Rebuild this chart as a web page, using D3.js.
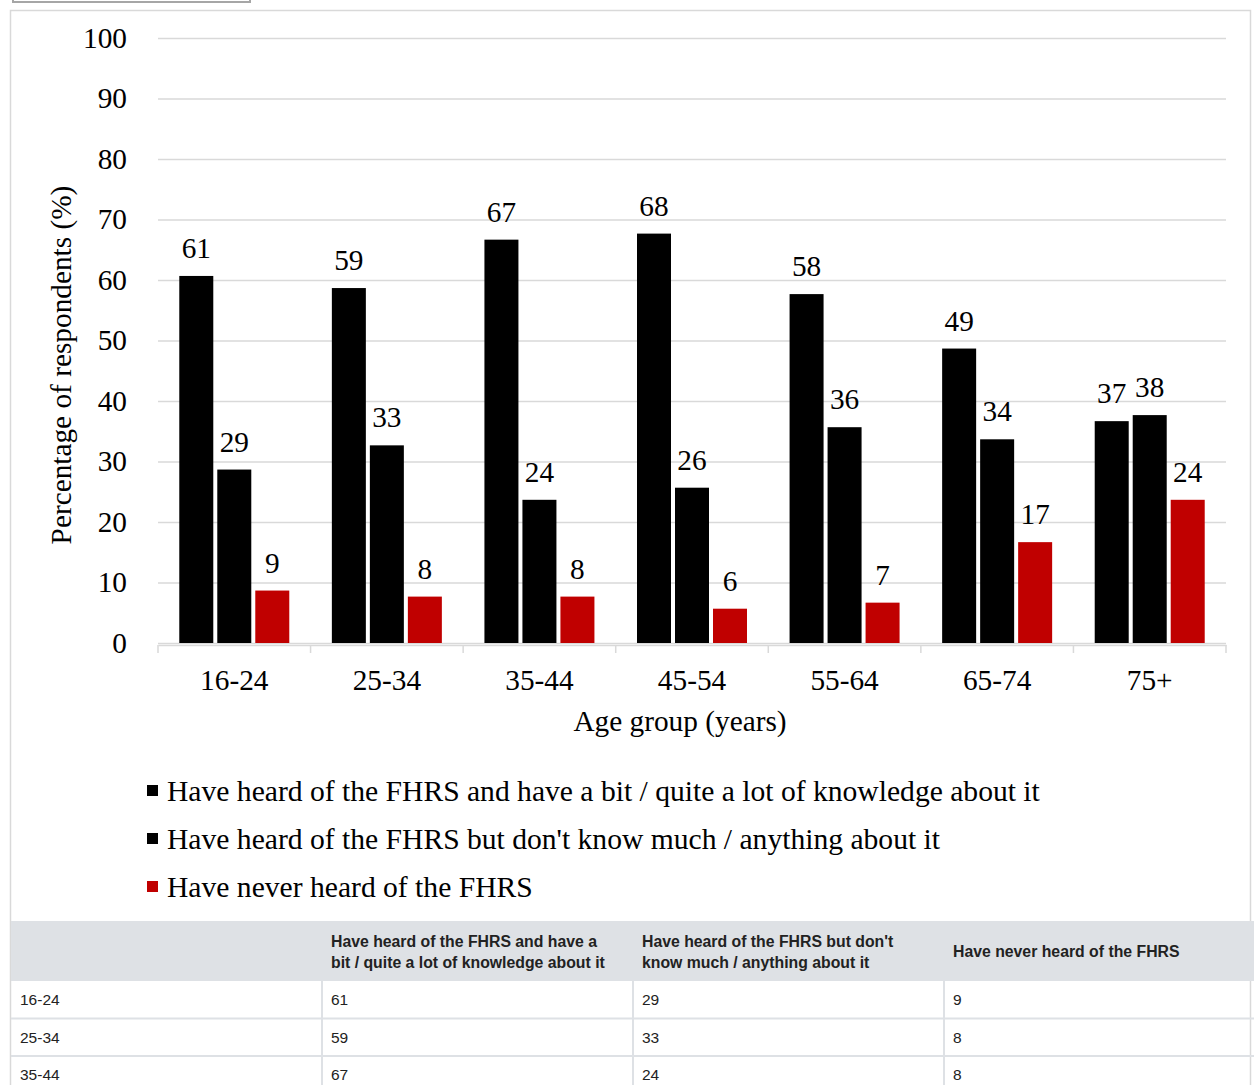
<!DOCTYPE html>
<html><head><meta charset="utf-8">
<script src="https://cdn.jsdelivr.net/npm/d3@7"></script>
<style>
body{margin:0;background:#fff;}
svg{display:block;}
</style></head>
<body>
<svg id="c" width="1254" height="1085"></svg>
<script>
const categories = ["16-24","25-34","35-44","45-54","55-64","65-74","75+"];
const seriesNames = [
  "Have heard of the FHRS and have a bit / quite a lot of knowledge about it",
  "Have heard of the FHRS but don't know much / anything about it",
  "Have never heard of the FHRS"
];
const tableHeaders = [
  ["Have heard of the FHRS and have a","bit / quite a lot of knowledge about it"],
  ["Have heard of the FHRS but don't","know much / anything about it"],
  ["Have never heard of the FHRS"]
];
const knowledgeable = [61,59,67,68,58,49,37];
const notMuch = [29,33,24,26,36,34,38];
const neverHeard = [9,8,8,6,7,17,24];
const yTicks = [0,10,20,30,40,50,60,70,80,90,100];
const colors = ["#000000","#000000","#c00000"];
const allSeries = [knowledgeable, notMuch, neverHeard];

const svg = d3.select("#c");
const serif = "'Liberation Serif','Times New Roman',serif";
const sans = "'Liberation Sans',Arial,sans-serif";
const fs = 29.3;

// top grey tab edge
svg.append("rect").attr("x",13).attr("y",-2).attr("width",237).attr("height",4)
  .attr("fill","#fff").attr("stroke","#a6a6a6").attr("stroke-width",2);

// chart frame
svg.append("rect").attr("x",10.5).attr("y",10.5).attr("width",1240).attr("height",1090)
  .attr("fill","none").attr("stroke","#d9d9d9").attr("stroke-width",1.5);

const x0 = d3.scaleBand().domain(categories).range([158,1226]).paddingInner(0).paddingOuter(0);
const y = d3.scaleLinear().domain([0,100]).range([643,38]);
const barW = 34, gap = 4;

// gridlines
const yAxis = d3.axisLeft(y).tickValues(yTicks).tickSize(-(1226-158)).tickFormat(d=>d);
const gy = svg.append("g").attr("transform","translate(158,0)").call(yAxis);
gy.select(".domain").remove();
gy.selectAll(".tick line").attr("stroke","#d9d9d9").attr("stroke-width",1.3);
gy.selectAll(".tick text").attr("x",-31).attr("font-family",serif).attr("font-size",fs).attr("fill","#000");

// x axis
const xAxis = d3.axisBottom(x0).tickSize(0);
const gx = svg.append("g").attr("transform","translate(0,645)").call(xAxis);
gx.select(".domain").attr("stroke","#d9d9d9").attr("stroke-width",1.5);
gx.selectAll(".tick text").attr("y",45).attr("dy",0).attr("font-family",serif).attr("font-size",fs).attr("fill","#000");
// boundary ticks
const bounds = categories.map(c=>x0(c)).concat([x0.range()[1]]);
svg.append("g").selectAll("line").data(bounds).join("line")
  .attr("x1",d=>d).attr("x2",d=>d).attr("y1",645).attr("y2",653)
  .attr("stroke","#d9d9d9").attr("stroke-width",1.5);

// bars
allSeries.forEach((vals,si)=>{
  const g = svg.append("g");
  const off = d => x0(d) + (x0.bandwidth() - (3*barW+2*gap))/2 + si*(barW+gap);
  g.selectAll("rect").data(categories).join("rect")
    .attr("x",(d)=>off(d)).attr("y",(d,i)=>y(vals[i])+2)
    .attr("width",barW).attr("height",(d,i)=>y(0)-y(vals[i])-2)
    .attr("fill",colors[si]);
  g.selectAll("text").data(categories).join("text")
    .attr("x",d=>off(d)+barW/2).attr("y",(d,i)=>y(vals[i])-16)
    .attr("text-anchor","middle").attr("font-family",serif).attr("font-size",fs).attr("fill","#000")
    .text((d,i)=>vals[i]);
});

// axis titles
svg.append("text").attr("x",680).attr("y",731).attr("text-anchor","middle")
  .attr("font-family",serif).attr("font-size",fs).text("Age group (years)");
svg.append("text").attr("transform","translate(71,365) rotate(-90)").attr("text-anchor","middle")
  .attr("font-family",serif).attr("font-size",fs).text("Percentage of respondents (%)");

// legend
const lg = svg.append("g");
seriesNames.forEach((n,i)=>{
  const yy = 791 + i*48;
  lg.append("rect").attr("x",147).attr("y",yy-6).attr("width",11).attr("height",11).attr("fill",colors[i]);
  lg.append("text").attr("x",167).attr("y",yy+10).attr("font-family",serif).attr("font-size",fs+0.3).text(n);
});

// table
const tb = svg.append("g");
const colX = [11,322,633,944,1254];
tb.append("rect").attr("x",11).attr("y",921).attr("width",1243).attr("height",60).attr("fill","#dee1e5");
tableHeaders.forEach((lines,i)=>{
  const t = tb.append("text").attr("font-family",sans).attr("font-size",15.8).attr("font-weight","bold").attr("fill","#222");
  const cy = 951;
  lines.forEach((l,j)=>{
    t.append("tspan").attr("x",colX[i+1]+9).attr("y",cy + 6 + (j-(lines.length-1)/2)*21).text(l);
  });
});
const rowsShown = 3;
for(let r=0;r<rowsShown;r++){
  const top = 981 + r*37.5;
  const cells = [categories[r], knowledgeable[r], notMuch[r], neverHeard[r]];
  cells.forEach((v,ci)=>{
    tb.append("text").attr("x",colX[ci]+9).attr("y",top+24).attr("font-family",sans)
      .attr("font-size",15.5).attr("fill","#222").text(v);
  });
  tb.append("line").attr("x1",11).attr("x2",1254).attr("y1",top+37.5).attr("y2",top+37.5)
    .attr("stroke","#dee1e5").attr("stroke-width",2);
  [322,633,944].forEach(cx=>{
    tb.append("line").attr("x1",cx).attr("x2",cx).attr("y1",top).attr("y2",top+37.5)
      .attr("stroke","#dee1e5").attr("stroke-width",2);
  });
}
</script>
</body></html>
